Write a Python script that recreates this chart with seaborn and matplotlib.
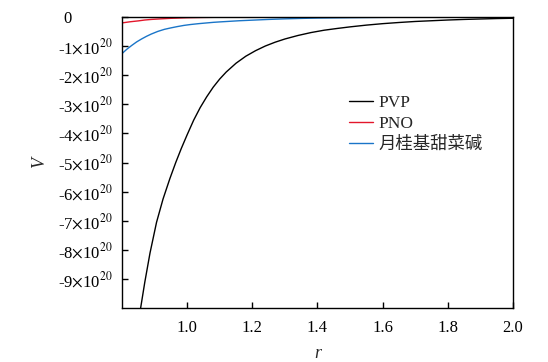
import numpy as np
import pandas as pd
import matplotlib
matplotlib.use("Agg")
import matplotlib.pyplot as plt
import matplotlib.transforms as mtransforms
import seaborn as sns

# values (V in units of 1e20)
r_pvp = [0.857, 0.87, 0.886, 0.906, 0.926, 0.947, 0.965, 0.982, 1.00, 1.02, 1.04, 1.06,
         1.08, 1.10, 1.12, 1.15, 1.18, 1.21, 1.24, 1.27, 1.30, 1.34, 1.38, 1.42, 1.46,
         1.50, 1.55, 1.60, 1.65, 1.70, 1.75, 1.80, 1.85, 1.90, 1.95, 2.00]
v_pvp = [-10.0, -9.1, -8.1, -7.05, -6.25, -5.55, -5.0, -4.52, -4.05, -3.55, -3.12, -2.75,
         -2.42, -2.14, -1.9, -1.6, -1.36, -1.17, -1.01, -0.88, -0.77, -0.65, -0.55, -0.47, -0.41,
         -0.355, -0.295, -0.245, -0.205, -0.17, -0.145, -0.12, -0.10, -0.085, -0.07, -0.06]

r_pno = [0.80, 0.825, 0.85, 0.87, 0.89, 0.92, 0.95, 1.00, 1.05, 1.10, 1.20, 1.30,
         1.50, 1.75, 2.00]
v_pno = [-0.22, -0.18, -0.15, -0.12, -0.10, -0.08, -0.062, -0.042, -0.032, -0.025, -0.017, -0.012,
         -0.007, -0.004, -0.003]

r_lb = [0.80, 0.815, 0.83, 0.845, 0.86, 0.875, 0.89, 0.91, 0.93, 0.95, 0.97, 0.99,
        1.01, 1.035, 1.06, 1.08, 1.10, 1.13, 1.16, 1.20, 1.25, 1.30, 1.35, 1.40,
        1.50, 1.60, 1.70, 1.80, 1.90, 2.00]
v_lb = [-1.27, -1.12, -0.99, -0.87, -0.77, -0.68, -0.60, -0.51, -0.44, -0.39, -0.345, -0.305,
        -0.275, -0.245, -0.22, -0.20, -0.185, -0.165, -0.145, -0.125, -0.10, -0.08, -0.065, -0.053,
        -0.04, -0.03, -0.022, -0.017, -0.013, -0.01]

names = ["PVP", "PNO", "月桂基甜菜碱"]
colors = ["#000000", "#e3162b", "#1a75c8"]
ytick_vals = [0, -1, -2, -3, -4, -5, -6, -7, -8, -9]
xtick_vals = [1.0, 1.2, 1.4, 1.6, 1.8, 2.0]

df = pd.concat([
    pd.DataFrame({"r": r_pvp, "V": np.array(v_pvp) * 1e20, "name": names[0]}),
    pd.DataFrame({"r": r_pno, "V": np.array(v_pno) * 1e20, "name": names[1]}),
    pd.DataFrame({"r": r_lb, "V": np.array(v_lb) * 1e20, "name": names[2]}),
])

sns.set_theme(style="ticks")
plt.rcParams["font.family"] = ["Liberation Serif", "Noto Sans CJK SC"]
plt.rcParams["mathtext.fontset"] = "stix"
plt.rcParams["axes.unicode_minus"] = False

fig = plt.figure(figsize=(5.48, 3.62), dpi=100)
ax = fig.add_axes([0.2226, 0.1478, 0.7135, 0.8066])

sns.lineplot(data=df, x="r", y="V", hue="name", hue_order=names,
             palette=colors, linewidth=1.0, ax=ax, legend=True)

ax.set_xlim(0.8, 2.0)
ax.set_ylim(-1e21, 0)
ax.set_xticks(xtick_vals)
ax.set_xticklabels([f"{v:.1f}" for v in xtick_vals])
ax.set_yticks([v * 1e20 for v in ytick_vals])
ax.set_yticklabels(["0"] + [f"{v}$\\times$10$^{{20}}$" for v in ytick_vals[1:]])

ax.tick_params(direction="in", length=4.5, width=1.0, labelsize=12, pad=7,
               colors="black", top=False, right=False)
ax.tick_params(axis="x", pad=8.5)
for s in ax.spines.values():
    s.set_visible(True)
    s.set_linewidth(1.0)
    s.set_color("black")

# the "0" label sits further left in the reference
lab0 = ax.get_yticklabels()[0]
lab0.set_transform(lab0.get_transform() +
                   mtransforms.ScaledTranslation(-0.41, 0, fig.dpi_scale_trans))

ax.set_xlabel("r", fontsize=13, style="italic")
ax.set_ylabel("V", fontsize=13, style="italic")
ax.xaxis.set_label_coords(0.5, -0.125)
ax.yaxis.set_label_coords(-0.19, 0.5)

leg = ax.legend(loc="upper left", bbox_to_anchor=(0.58, 0.733), frameon=False,
                fontsize=12.5, handlelength=1.4, handletextpad=0.3,
                labelspacing=0.28, borderpad=0, borderaxespad=0)
for line in leg.get_lines():
    line.set_linewidth(1.0)

fig.savefig("out.png", dpi=100)
